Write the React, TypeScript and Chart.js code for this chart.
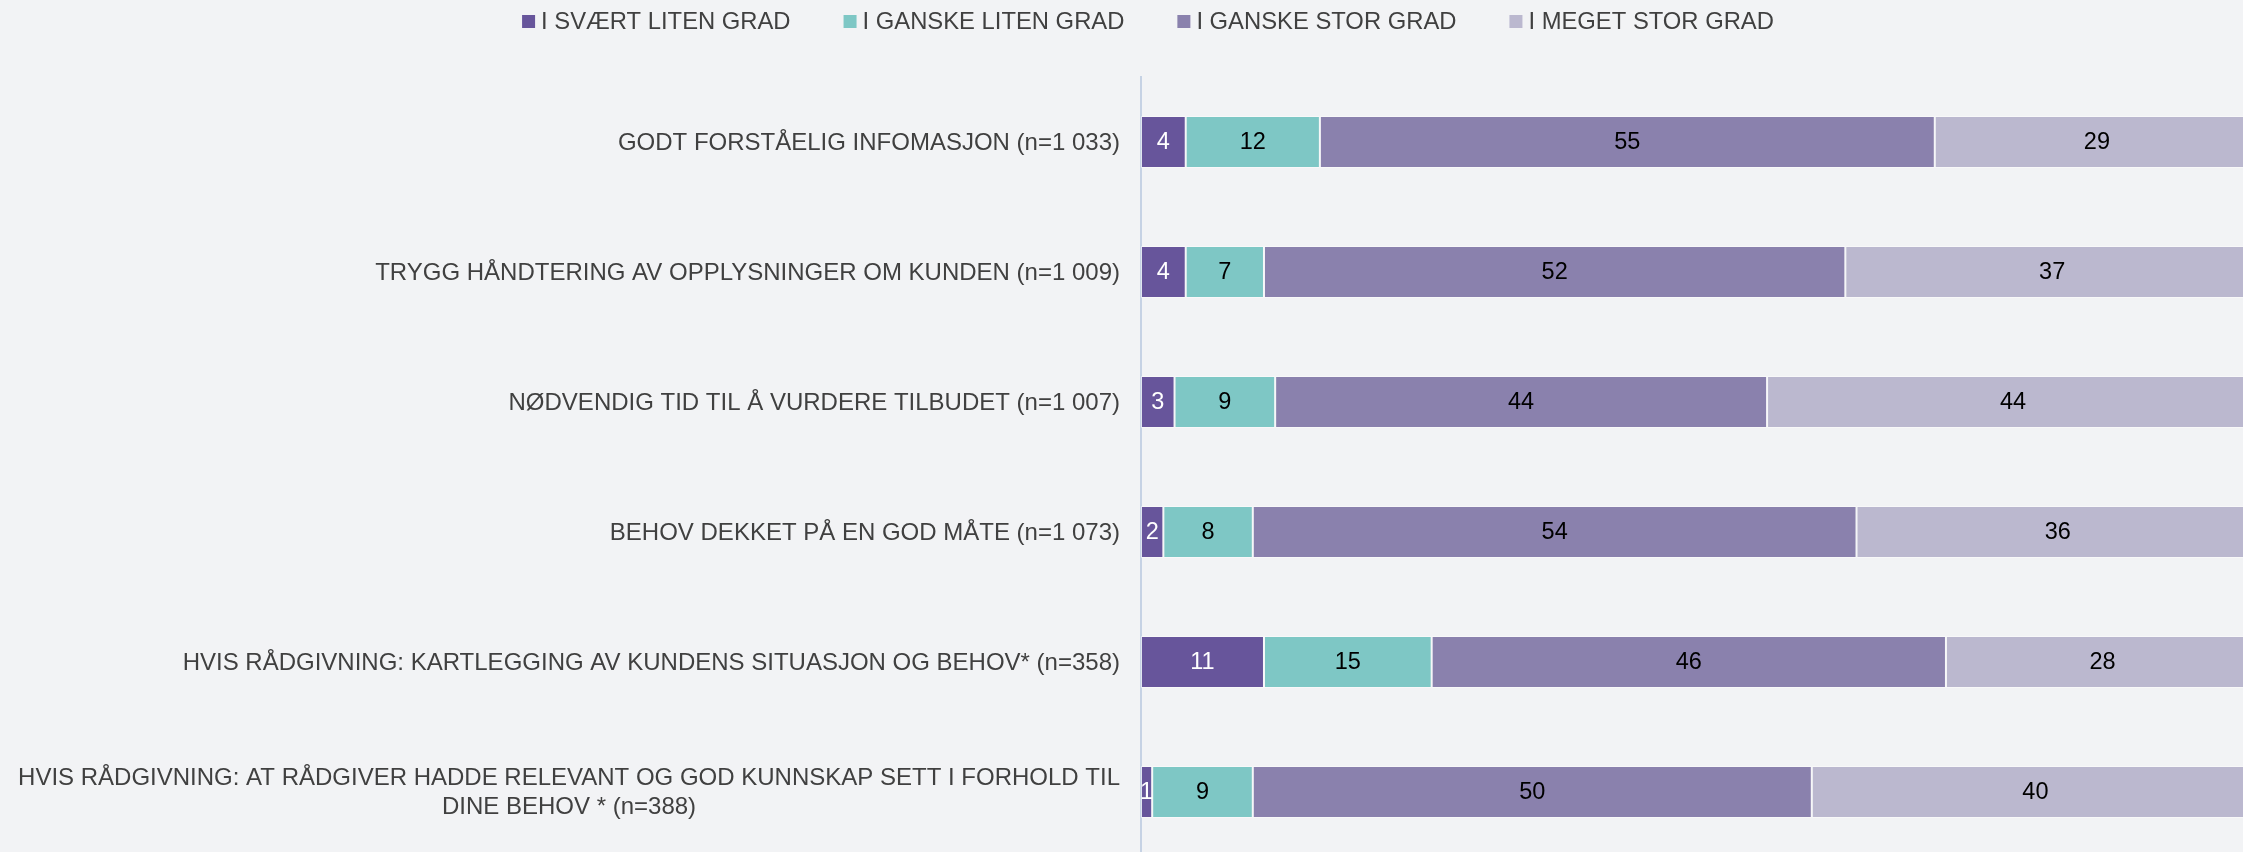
import React, { useEffect, useRef } from "react";
import { Chart, registerables } from "chart.js";

Chart.register(...registerables);

// ---- Data ----
const categories: string[][] = [
  ["GODT FORSTÅELIG INFOMASJON (n=1 033)"],
  ["TRYGG HÅNDTERING AV OPPLYSNINGER OM KUNDEN (n=1 009)"],
  ["NØDVENDIG TID TIL Å VURDERE TILBUDET (n=1 007)"],
  ["BEHOV DEKKET PÅ EN GOD MÅTE (n=1 073)"],
  ["HVIS RÅDGIVNING: KARTLEGGING AV KUNDENS SITUASJON OG BEHOV* (n=358)"],
  [
    "HVIS RÅDGIVNING: AT RÅDGIVER HADDE RELEVANT OG GOD KUNNSKAP SETT I FORHOLD TIL",
    "DINE BEHOV * (n=388)",
  ],
];
const seriesNames = [
  "I SVÆRT LITEN GRAD",
  "I GANSKE LITEN GRAD",
  "I GANSKE STOR GRAD",
  "I MEGET STOR GRAD",
];
const svaertLiten = [4, 4, 3, 2, 11, 1];
const ganskeLiten = [12, 7, 9, 8, 15, 9];
const ganskeStor = [55, 52, 44, 54, 46, 50];
const megetStor = [29, 37, 44, 36, 28, 40];
const xMin = 0;
const xMax = 100;

// ---- Styles ----
const seriesColors = ["#67559B", "#7EC7C5", "#8A81AD", "#BBB8CF"];
const labelColors = ["#FFFFFF", "#000000", "#000000", "#000000"];
const FONT = '"Liberation Sans", Arial, sans-serif';
const TEXT_COLOR = "#404040";
const BG = "#F2F3F5";
const CANVAS_W = 2259;
const CANVAS_H = 857;
const AXIS_X = 1141;
const LEGEND_CENTER_X = 1148;
const LEGEND_Y = 21.5;

const customLegend = {
  id: "customLegend",
  afterDraw(chart: any) {
    const ctx = chart.ctx;
    ctx.save();
    ctx.font = `23.8px ${FONT}`;
    const box = 13;
    const boxGap = 6;
    const itemGap = 53;
    const widths = seriesNames.map((n) => ctx.measureText(n).width);
    const total =
      widths.reduce((a, w) => a + box + boxGap + w, 0) + itemGap * (seriesNames.length - 1);
    let x = LEGEND_CENTER_X - total / 2;
    ctx.textBaseline = "middle";
    ctx.textAlign = "left";
    seriesNames.forEach((name, i) => {
      ctx.fillStyle = seriesColors[i];
      ctx.fillRect(x, LEGEND_Y - box / 2, box, box);
      ctx.fillStyle = TEXT_COLOR;
      ctx.fillText(name, x + box + boxGap, LEGEND_Y + 1);
      x += box + boxGap + widths[i] + itemGap;
    });
    ctx.restore();
  },
};

const categoryLabels = {
  id: "categoryLabels",
  afterDraw(chart: any) {
    const ctx = chart.ctx;
    const yScale = chart.scales.y;
    const right = chart.chartArea.left - 21;
    const lineH = 29;
    ctx.save();
    ctx.font = `24px ${FONT}`;
    ctx.fillStyle = TEXT_COLOR;
    ctx.textBaseline = "middle";
    categories.forEach((lines, i) => {
      const yc = yScale.getPixelForValue(i) + 1;
      const blockW = Math.max(...lines.map((l) => ctx.measureText(l).width));
      const cx = right - blockW / 2;
      const y0 = yc - ((lines.length - 1) * lineH) / 2;
      lines.forEach((l, j) => {
        ctx.textAlign = lines.length > 1 ? "center" : "right";
        ctx.fillText(l, lines.length > 1 ? cx : right, y0 + j * lineH);
      });
    });
    ctx.restore();
  },
};

const valueLabels = {
  id: "valueLabels",
  afterDatasetsDraw(chart: any) {
    const ctx = chart.ctx;
    ctx.save();
    ctx.font = `23.5px ${FONT}`;
    ctx.textAlign = "center";
    ctx.textBaseline = "middle";
    chart.data.datasets.forEach((ds: any, di: number) => {
      const meta = chart.getDatasetMeta(di);
      meta.data.forEach((el: any, i: number) => {
        const v = ds.data[i];
        if (v == null) return;
        const cx = (el.x + el.base) / 2;
        ctx.fillStyle = labelColors[di];
        ctx.fillText(String(v), cx, el.y + 1);
      });
    });
    ctx.restore();
  },
};

export default function App() {
  const ref = useRef<HTMLCanvasElement | null>(null);

  useEffect(() => {
    if (!ref.current) return;
    const seriesData = [svaertLiten, ganskeLiten, ganskeStor, megetStor];
    const chart = new Chart(ref.current, {
      type: "bar",
      data: {
        labels: categories.map((c) => c.join(" ")),
        datasets: seriesNames.map((name, i) => ({
          label: name,
          data: seriesData[i],
          backgroundColor: seriesColors[i],
          borderColor: "rgba(255,255,255,0.45)",
          borderWidth: 1,
          borderSkipped: false,
          categoryPercentage: 0.8,
          barPercentage: 0.5,
        })),
      },
      options: {
        indexAxis: "y",
        responsive: false,
        animation: false,
        devicePixelRatio: 1,
        layout: { padding: { top: 77, left: 0, right: 0, bottom: 0 } },
        plugins: {
          legend: { display: false },
          tooltip: { enabled: false },
          title: { display: false },
        },
        scales: {
          x: {
            display: false,
            stacked: true,
            min: xMin,
            max: xMax,
          },
          y: {
            stacked: true,
            ticks: { display: false },
            grid: { display: false },
            border: { display: true, color: "#C6D2E4", width: 2 },
            afterFit: (scale: any) => {
              scale.width = AXIS_X;
            },
          },
        },
      },
      plugins: [customLegend, categoryLabels, valueLabels],
    } as any);
    return () => chart.destroy();
  }, []);

  return (
    <div
      style={{
        position: "fixed",
        left: 0,
        top: 0,
        width: 2243,
        height: 852,
        overflow: "hidden",
        background: BG,
      }}
    >
      <canvas
        ref={ref}
        width={CANVAS_W}
        height={CANVAS_H}
        style={{ display: "block", width: CANVAS_W, height: CANVAS_H }}
      />
    </div>
  );
}
